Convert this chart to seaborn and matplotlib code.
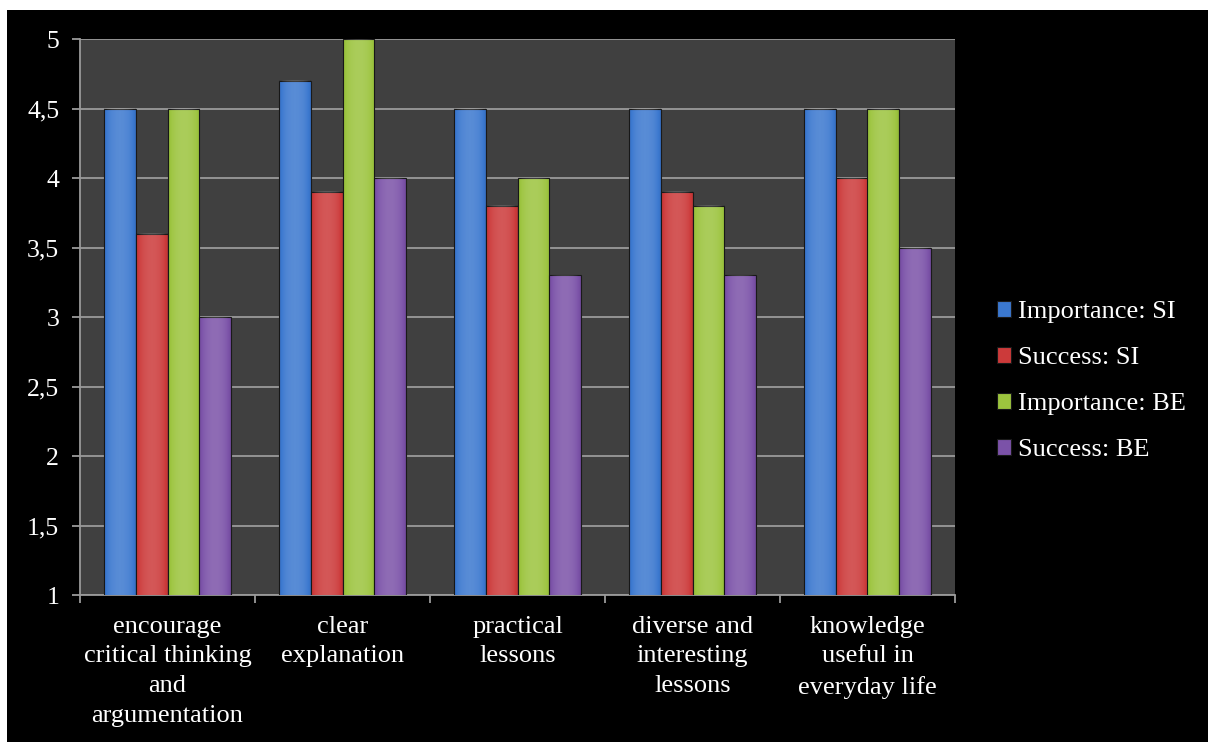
import numpy as np
import pandas as pd
import seaborn as sns
import matplotlib
matplotlib.use("Agg")
import matplotlib.pyplot as plt
from matplotlib.patches import Rectangle
from matplotlib.ticker import FuncFormatter, FixedLocator

categories = ["encourage\ncritical thinking\nand\nargumentation",
              "clear\nexplanation",
              "practical\nlessons",
              "diverse and\ninteresting\nlessons",
              "knowledge\nuseful in\neveryday life"]
series = ["Importance: SI", "Success: SI", "Importance: BE", "Success: BE"]
importance_si = [4.5, 4.7, 4.5, 4.5, 4.5]
success_si = [3.6, 3.9, 3.8, 3.9, 4.0]
importance_be = [4.5, 5.0, 4.0, 3.8, 4.5]
success_be = [3.0, 4.0, 3.3, 3.3, 3.5]
colors = ["#3b78cf", "#cc3a3a", "#9cc43e", "#7b52a8"]
yticks = [1, 1.5, 2, 2.5, 3, 3.5, 4, 4.5, 5]

rows = []
for s, vals in zip(series, [importance_si, success_si, importance_be, success_be]):
    for c, v in zip(categories, vals):
        rows.append({"category": c, "series": s, "value": v})
df = pd.DataFrame(rows)

sns.set_theme(style="white")
plt.rcParams["font.family"] = ["Liberation Serif", "DejaVu Serif"]
FS = 19
FS_Y = 18.5

fig = plt.figure(figsize=(12.08, 7.42), dpi=100, facecolor="white")
fig.patches.append(Rectangle((7 / 1208, 0), 1 - 7 / 1208, 1 - 10 / 742,
                             transform=fig.transFigure, facecolor="black",
                             edgecolor="none", zorder=-10))
ax = fig.add_axes([80 / 1208, 1 - 595 / 742, (955 - 80) / 1208, (595 - 39) / 742])
ax.set_facecolor("#404040")

YMIN, YMAX = 1, 5
sns.barplot(data=df, x="category", y="value", hue="series", hue_order=series,
            order=categories, palette=colors, width=0.73, ax=ax,
            saturation=1, edgecolor="#1a1a1a", linewidth=0.8, zorder=3,
            errorbar=None)

# bevel shading on each bar (derived from the bar patches)
grad = np.linspace(0, 1, 64)
shade = 0.55 * np.sin(np.pi * grad) ** 0.5 - 0.25
for p in list(ax.patches):
    if p.get_height() <= 0:
        continue
    x0, w = p.get_x(), p.get_width()
    top = p.get_y() + p.get_height()
    img = np.zeros((1, 64, 4))
    img[..., 0:3] = np.where(shade[None, :, None] > 0, 1.0, 0.0)
    img[..., 3] = np.abs(shade)[None, :] * 0.5
    ax.imshow(img, extent=(x0, x0 + w, YMIN, top), aspect="auto",
              zorder=4, interpolation="bilinear")

ax.set_ylim(YMIN, YMAX)
ax.set_xlim(-0.5, len(categories) - 0.5)
ax.yaxis.set_major_locator(FixedLocator(yticks))
ax.yaxis.set_major_formatter(FuncFormatter(lambda v, _: (f"{v:g}").replace(".", ",")))
ax.grid(axis="y", color="#9a9a9a", linewidth=1.3, zorder=0)
ax.set_axisbelow(True)
ax.set_xlabel("")
ax.set_ylabel("")

for side in ["top", "right"]:
    ax.spines[side].set_visible(False)
for side in ["left", "bottom"]:
    ax.spines[side].set_color("#9a9a9a")
    ax.spines[side].set_linewidth(1.3)

ax.tick_params(axis="y", colors="#9a9a9a", labelcolor="white", labelsize=FS_Y,
               length=6, width=1.3, direction="out", left=True, pad=9)
ax.set_xticks(range(len(categories)))
ax.set_xticklabels(categories, linespacing=1.45, ha="center")
ax.tick_params(axis="x", which="major", length=0, labelcolor="white",
               labelsize=FS, pad=15)
ax.set_xticks(np.arange(-0.5, len(categories)), minor=True)
ax.tick_params(axis="x", which="minor", length=6, width=1.3, color="#9a9a9a",
               direction="out", bottom=True)

handles, labels = ax.get_legend_handles_labels()
leg = ax.legend(handles, labels, loc="center left",
                bbox_to_anchor=(973 / 1208, 1 - 381 / 742),
                bbox_transform=fig.transFigure, frameon=False,
                fontsize=FS, labelcolor="white", handlelength=0.55,
                handleheight=0.55, handletextpad=0.25, labelspacing=0.9)

fig.savefig("out.png", dpi=100, facecolor=fig.get_facecolor())
